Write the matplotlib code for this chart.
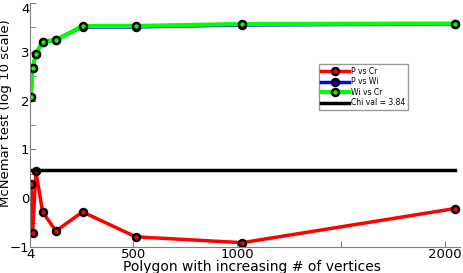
import numpy as np
import matplotlib
matplotlib.use("Agg")
import matplotlib.pyplot as plt

# polygon sizes (number of vertices)
vertices = [8, 16, 32, 64, 128, 256, 512, 1024, 2048]

# McNemar test statistic, log10 scale
p_vs_cr = [0.30, -0.72, 0.55, -0.28, -0.67, -0.28, -0.79, -0.91, -0.21]
p_vs_wi = [2.07, 2.67, 2.96, 3.20, 3.25, 3.51, 3.51, 3.55, 3.57]
wi_vs_cr = [2.07, 2.67, 2.96, 3.21, 3.24, 3.53, 3.53, 3.57, 3.58]
chi_val = 3.84

xticks = [4, 500, 1000, 1500, 2000]
xtick_labels = ["4", "500", "1000", "", "2000"]
yticks = [-1, 0, 1, 2, 3, 4]

fig = plt.figure(figsize=(4.63, 2.73), dpi=100)
ax = fig.add_axes([0.065, 0.095, 0.929, 0.894])

mk = dict(marker="o", markersize=5, markeredgewidth=1.8, markeredgecolor="black")
ax.plot(vertices, p_vs_cr, color="#ff0000", lw=2.5, markerfacecolor="#ff0000",
        label="P vs Cr", **mk)
ax.plot(vertices, p_vs_wi, color="#0000ff", lw=2.5, markerfacecolor="#0000ff",
        label="P vs Wi", **mk)
ax.plot(vertices, wi_vs_cr, color="#00ff00", lw=3, markerfacecolor="#00ff00",
        label="Wi vs Cr", **mk)
ax.plot([vertices[0], vertices[-1]], [np.log10(chi_val)] * 2, color="black",
        lw=2.5, label="Chi val = 3.84")

ax.set_xlim(4, 2072)
ax.set_ylim(-1, 4)
ax.set_xticks(xticks)
ax.set_xticklabels(xtick_labels)
ax.set_yticks(yticks)
ax.set_yticks(np.arange(-0.5, 4, 1.0), minor=True)
ax.tick_params(axis="both", which="both", direction="in", colors="#808080",
               labelcolor="black", labelsize=9.5, pad=0.5)
ax.tick_params(which="major", length=4)
ax.tick_params(which="minor", length=4)
for lbl in ax.get_yticklabels():
    if lbl.get_text() == "4":
        lbl.set_va("top")
for s in ["top", "right"]:
    ax.spines[s].set_visible(False)
for s in ["left", "bottom"]:
    ax.spines[s].set_color("#808080")

ax.set_xlabel("Polygon with increasing # of vertices", fontsize=10)
ax.xaxis.set_label_coords(0.516, -0.054)
ax.set_ylabel("McNemar test (log 10 scale)", fontsize=9.5, labelpad=0)
ax.yaxis.set_label_coords(-0.042, 0.55)

leg = ax.legend(loc="upper left", bbox_to_anchor=(0.662, 0.765), fontsize=5.5,
                frameon=True, fancybox=False, handlelength=3.6,
                borderpad=0.35, labelspacing=0.2, handletextpad=0.3)
leg.get_frame().set_edgecolor("#808080")
leg.get_frame().set_linewidth(1)

fig.savefig("out.png", dpi=100)
